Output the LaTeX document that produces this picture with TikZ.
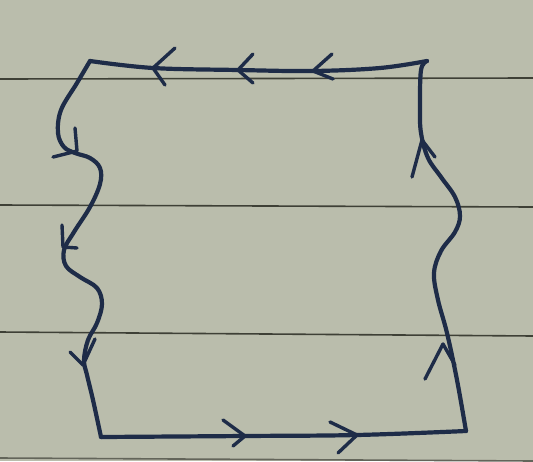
\documentclass[tikz,border=0pt]{standalone}
\begin{document}
\begin{tikzpicture}[x=1pt,y=-1pt,
  ink/.style={draw=inkc,line width=4.2pt,line cap=round,line join=round},
  chev/.style={draw=inkc,line width=3.4pt,line cap=round,line join=round},
  ruled/.style={draw=rulec,line width=1.6pt}]
\definecolor{paper}{RGB}{186,189,172}
\definecolor{inkc}{RGB}{30,44,72}
\definecolor{rulec}{RGB}{62,64,54}
\fill[paper] (0,0) rectangle (533,461);
\useasboundingbox (0,0) rectangle (533,461);
% ruled lines
\draw[ruled] (0,79) -- (533,78);
\draw[ruled] (0,205) -- (533,207);
\draw[ruled] (0,332) -- (533,336);
\draw[ruled,rulec!70!paper] (0,458) -- (533,461);
% corners
\coordinate (TL) at (90,61);
\coordinate (TR) at (427,61);
\coordinate (BL) at (101,437);
\coordinate (BR) at (466,431);
% top side
\draw[ink] plot[smooth,tension=0.6] coordinates {(TL) (153,68) (238,70) (313,71) (380,68) (TR)};
% right side
\draw[ink] plot[smooth,tension=0.6] coordinates {(TR) (421,70) (420,107) (421,133) (428,158) (441,177) (455,197) (460,216) (455,232) (441,251) (434,273) (438,300) (447,333) (457,380) (BR)};
% left side
\draw[ink] plot[smooth,tension=0.6] coordinates {(TL) (77,83) (61,110) (58,133) (64,147) (75,153) (90,158) (100,168) (100,184) (90,207) (74,232) (64,250) (66,266) (80,277) (97,288) (102,304) (97,323) (88,340) (84,360) (87,375) (93,400) (BL)};
% bottom side
\draw[ink] plot[smooth,tension=0.6] coordinates {(BL) (245,436) (357,435) (BR)};
% arrows on top (pointing left)
\draw[chev] (175,48) -- (153,68) -- (165,85);
\draw[chev] (253,54) -- (238,70) -- (253,83);
\draw[chev] (332,54) -- (313,71) -- (333,79);
% arrows on left (pointing down)
\draw[chev] (75,128) -- (77,151) -- (53,157);
\draw[chev] (62,225) -- (63,247) -- (77,248);
\draw[chev] (70,352) -- (83,365) -- (95,339);
% arrows on bottom (pointing right)
\draw[chev] (223,420) -- (245,436) -- (233,446);
\draw[chev] (330,422) -- (357,435) -- (338,453);
% arrows on right (pointing up)
\draw[chev] (412,177) -- (422,140) -- (435,157);
\draw[chev] (425,379) -- (443,344) -- (455,365);
\end{tikzpicture}
\end{document}
